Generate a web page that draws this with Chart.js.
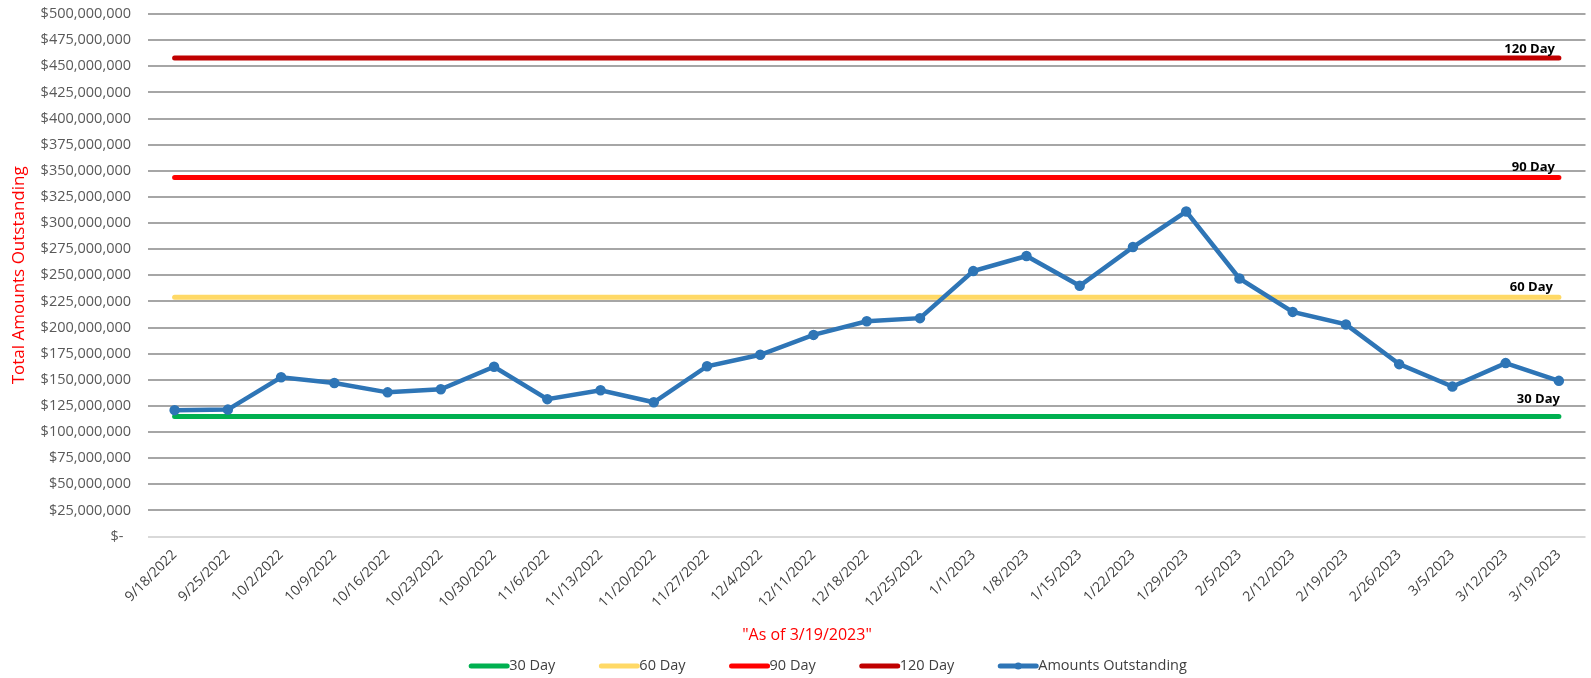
<!DOCTYPE html>
<html>
<head>
<meta charset="utf-8">
<script src="https://cdn.jsdelivr.net/npm/chart.js@4.4.1/dist/chart.umd.min.js"></script>
<style>
html, body { margin: 0; padding: 0; overflow: hidden; background: #ffffff; width: 1591px; height: 678px; }
canvas { display: block; }
</style>
</head>
<body>
<canvas id="chart" width="1594" height="678"></canvas>
<script>
// ---- Data ----
const categories = [
  '9/18/2022', '9/25/2022', '10/2/2022', '10/9/2022', '10/16/2022', '10/23/2022', '10/30/2022',
  '11/6/2022', '11/13/2022', '11/20/2022', '11/27/2022', '12/4/2022', '12/11/2022', '12/18/2022',
  '12/25/2022', '1/1/2023', '1/8/2023', '1/15/2023', '1/22/2023', '1/29/2023', '2/5/2023',
  '2/12/2023', '2/19/2023', '2/26/2023', '3/5/2023', '3/12/2023', '3/19/2023'
];
const amountsOutstanding = [
  121000000, 121500000, 152500000, 147000000, 138000000, 141000000, 162500000,
  131500000, 140000000, 128500000, 163000000, 174000000, 193000000, 206000000,
  209000000, 254000000, 268500000, 240000000, 277000000, 311000000, 247000000,
  215000000, 203000000, 165000000, 143500000, 166000000, 149000000
];
const threshold30 = 115000000;
const threshold60 = 229000000;
const threshold90 = 343500000;
const threshold120 = 458000000;
const seriesNames = ['30 Day', '60 Day', '90 Day', '120 Day', 'Amounts Outstanding'];
const yMin = 0;
const yMax = 500000000;
const yStep = 25000000;
const yAxisTitle = 'Total Amounts Outstanding';
const xAxisTitle = '"As of 3/19/2023"';

// ---- Styles ----
const COLORS = ['#00B050', '#FFD966', '#FF0000', '#C00000', '#2E75B6'];
const FONT = '"Open Sans", "Liberation Sans", sans-serif';

function flatLine(value) {
  return [
    { x: categories[0], y: value },
    { x: categories[categories.length - 1], y: value }
  ];
}

const thresholdValues = [threshold30, threshold60, threshold90, threshold120];

const datasets = thresholdValues.map((v, i) => ({
  label: seriesNames[i],
  data: flatLine(v),
  borderColor: COLORS[i],
  backgroundColor: COLORS[i],
  borderWidth: 5,
  borderCapStyle: 'round',
  pointRadius: 0,
  pointHoverRadius: 0,
  order: 1
}));
datasets.push({
  label: seriesNames[4],
  data: amountsOutstanding,
  borderColor: COLORS[4],
  backgroundColor: COLORS[4],
  borderWidth: 4.5,
  pointRadius: 3,
  pointStyle: 'circle',
  pointBackgroundColor: COLORS[4],
  pointBorderColor: COLORS[4],
  tension: 0,
  order: 0
});

// Labels at the right end of each threshold line
const lineLabelPlugin = {
  id: 'lineLabels',
  afterDatasetsDraw(chart) {
    const ctx = chart.ctx;
    const rise = [17, 10, 10, 9];
    const shift = [1, -6, -4, -4];
    ctx.save();
    ctx.font = 'bold 13px ' + FONT;
    ctx.fillStyle = '#000000';
    ctx.textAlign = 'right';
    ctx.textBaseline = 'middle';
    for (let i = 0; i < 4; i++) {
      const meta = chart.getDatasetMeta(i);
      const pt = meta.data[meta.data.length - 1];
      ctx.fillText(seriesNames[i], pt.x + shift[i], pt.y - rise[i]);
    }
    ctx.restore();
  }
};

// X title and legend drawn below the axis
const bottomTextPlugin = {
  id: 'bottomText',
  afterDraw(chart) {
    const ctx = chart.ctx;
    ctx.save();
    // x-axis title
    ctx.font = '16px ' + FONT;
    ctx.fillStyle = '#FF0000';
    ctx.textAlign = 'center';
    ctx.textBaseline = 'middle';
    ctx.fillText(xAxisTitle, 807, 635);

    // legend
    ctx.font = '14.5px ' + FONT;
    ctx.textAlign = 'left';
    const lineW = 40, gap = 44, y = 666;
    const items = chart.data.datasets.map(d => ({ text: d.label, color: d.borderColor, marker: d.pointRadius > 0 }));
    let total = 0;
    items.forEach((it, i) => { it.w = ctx.measureText(it.text).width; total += lineW + it.w + (i ? gap : 0); });
    let x = 828 - total / 2;
    items.forEach(it => {
      ctx.strokeStyle = it.color;
      ctx.lineWidth = 5;
      ctx.lineCap = 'round';
      ctx.beginPath();
      ctx.moveTo(x + 2, y);
      ctx.lineTo(x + lineW - 2, y);
      ctx.stroke();
      if (it.marker) {
        ctx.fillStyle = it.color;
        ctx.beginPath();
        ctx.arc(x + lineW / 2, y, 3.5, 0, Math.PI * 2);
        ctx.fill();
      }
      ctx.fillStyle = '#404040';
      ctx.fillText(it.text, x + lineW, y);
      x += lineW + it.w + gap;
    });
    ctx.restore();
  }
};

new Chart(document.getElementById('chart'), {
  type: 'line',
  data: { labels: categories, datasets: datasets },
  options: {
    responsive: false,
    animation: false,
    events: [],
    layout: { padding: { top: 14, left: 0, right: 0, bottom: 71.4 } },
    plugins: {
      legend: { display: false },
      tooltip: { enabled: false },
      title: { display: false }
    },
    scales: {
      x: {
        type: 'category',
        offset: true,
        grid: { display: false, drawTicks: false },
        border: { display: false },
        ticks: {
          autoSkip: false,
          maxRotation: 45,
          minRotation: 45,
          padding: 10,
          color: '#404040',
          font: { family: FONT, size: 14 }
        },
        afterFit(scale) { scale.height = 70; }
      },
      y: {
        min: yMin,
        max: yMax,
        grid: {
          drawTicks: false,
          lineWidth: 2,
          color: (c) => (c.tick && c.tick.value === 0 ? '#D9D9D9' : '#A6A6A6')
        },
        border: { display: false },
        ticks: {
          stepSize: yStep,
          padding: 17,
          color: '#595959',
          font: { family: FONT, size: 14.5 },
          callback: (v) => (v === 0 ? '$-  ' : '$' + Number(v).toLocaleString('en-US'))
        },
        title: {
          display: true,
          text: yAxisTitle,
          color: '#FF0000',
          font: { family: FONT, size: 17 },
          padding: { top: 9, bottom: 0 }
        },
        afterFit(scale) {
          scale.width = 148;
          scale.paddingTop = 0;
          scale.paddingBottom = 0;
        }
      }
    }
  },
  plugins: [lineLabelPlugin, bottomTextPlugin]
});
</script>
</body>
</html>
